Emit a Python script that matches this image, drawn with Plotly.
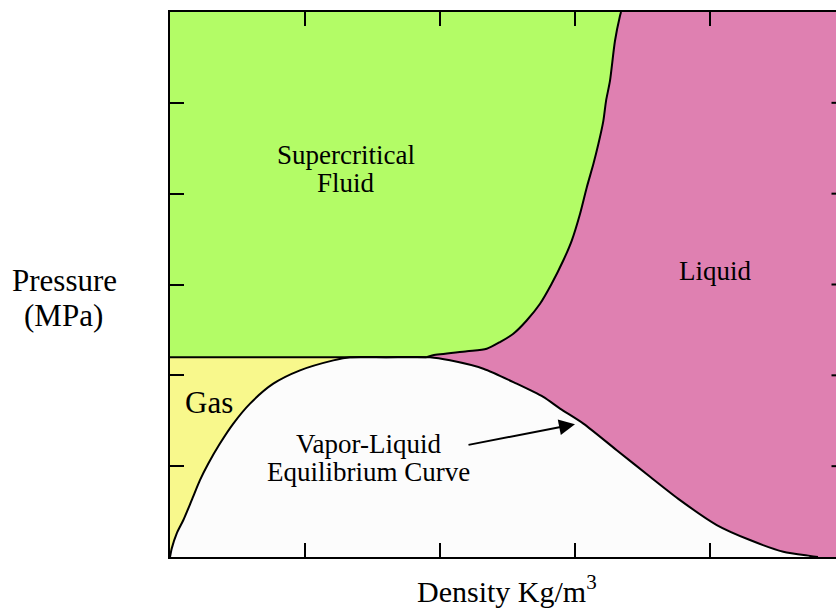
import plotly.graph_objects as go

# Vapor-liquid equilibrium dome (density, pressure) in axis units
dome_x = [0.0, 0.013, 0.050, 0.099, 0.161, 0.222, 0.284, 0.370, 0.469, 0.593, 0.765,
          0.963, 1.210, 1.333, 1.60, 1.926, 2.074, 2.321, 2.568, 2.765, 2.889, 3.062,
          3.309, 3.556, 3.778, 4.050, 4.296, 4.543, 4.741, 4.80]
dome_y = [0.0, 0.095, 0.260, 0.407, 0.626, 0.846, 1.029, 1.249, 1.469, 1.689, 1.908,
          2.055, 2.165, 2.2, 2.2, 2.2, 2.165, 2.073, 1.908, 1.762, 1.634, 1.469,
          1.176, 0.883, 0.626, 0.352, 0.187, 0.058, 0.012, 0.0]

# Supercritical fluid / liquid boundary
bound_x = [1.90, 1.948, 2.2, 2.346, 2.444, 2.543, 2.642, 2.741, 2.827, 2.913, 2.976,
           3.037, 3.087, 3.136, 3.173, 3.210, 3.230, 3.259, 3.296, 3.333, 3.341]
bound_y = [2.2, 2.22, 2.264, 2.293, 2.366, 2.458, 2.604, 2.788, 3.008, 3.264, 3.484,
           3.777, 4.069, 4.326, 4.546, 4.802, 5.022, 5.242, 5.681, 5.956, 6.0]

p_crit = 2.2
x_max = 5.1
y_max = 6.0
x_ticks = [1, 2, 3, 4]
y_ticks = [1, 2, 3, 4, 5]

GREEN = "#b3fc66"
PINK = "#df80b1"
YELLOW = "#f8f88c"
WHITE = "#fcfcfc"
FONT = "Liberation Serif, Times New Roman, serif"

peak_i = dome_y.index(p_crit)
crit_x = bound_x[0]
right_start = dome_x.index(1.926)

SM = dict(shape="spline", smoothing=0.7)

fig = go.Figure()

# Supercritical fluid region
fig.add_trace(go.Scatter(
    x=[0] + bound_x + [0], y=[p_crit] + bound_y + [y_max],
    fill="toself", fillcolor=GREEN, mode="none", hoverinfo="skip"))
# Gas region
fig.add_trace(go.Scatter(
    x=dome_x[:peak_i + 1] + [0], y=dome_y[:peak_i + 1] + [p_crit],
    fill="toself", fillcolor=YELLOW, mode="none", hoverinfo="skip"))
# Liquid region
rx = dome_x[right_start:][::-1]
ry = dome_y[right_start:][::-1]
fig.add_trace(go.Scatter(
    x=bound_x + [x_max, x_max] + rx, y=bound_y + [y_max, 0] + ry,
    fill="toself", fillcolor=PINK, mode="none", hoverinfo="skip"))
# Two-phase dome
fig.add_trace(go.Scatter(
    x=dome_x, y=dome_y, fill="toself", fillcolor=WHITE, mode="lines",
    line=dict(width=0, **SM), hoverinfo="skip"))

# Lines
fig.add_trace(go.Scatter(x=dome_x, y=dome_y, mode="lines",
                         line=dict(color="black", width=2, **SM), hoverinfo="skip"))
fig.add_trace(go.Scatter(x=bound_x, y=bound_y, mode="lines",
                         line=dict(color="black", width=2, **SM), hoverinfo="skip"))
fig.add_trace(go.Scatter(x=[0, crit_x], y=[p_crit, p_crit], mode="lines",
                         line=dict(color="black", width=2), hoverinfo="skip"))

# Right-side tick marks (axis itself is outside the visible page)
for yt in y_ticks:
    fig.add_shape(type="line", xref="x", yref="y", x0=4.9, x1=5.0, y0=yt, y1=yt,
                  line=dict(color="black", width=2))

def label(text, x, y, size=27, xref="x", yref="y"):
    fig.add_annotation(text=text, x=x, y=y, xref=xref, yref=yref, showarrow=False,
                       font=dict(family=FONT, size=size, color="black"),
                       xanchor="center", yanchor="middle")

label("Supercritical", 1.304, 4.43)
label("Fluid", 1.304, 4.12)
label("Liquid", 4.037, 3.154)
label("Gas", 0.289, 1.70, size=31)
label("Vapor-Liquid", 1.474, 1.242)
label("Equilibrium Curve", 1.467, 0.934)

label("Pressure", -0.159, 0.508, size=31, xref="paper", yref="paper")
label("(MPa)", -0.160, 0.444, size=31, xref="paper", yref="paper")
label("Density Kg/m<sup>3</sup>", 0.506, -0.059, size=30, xref="paper", yref="paper")

fig.add_annotation(x=3.0, y=1.462, ax=2.2, ay=1.231, xref="x", yref="y",
                   axref="x", ayref="y", showarrow=True, arrowhead=2,
                   arrowwidth=2, arrowsize=1.6, arrowcolor="black", text="")

fig.update_layout(
    width=836, height=609,
    margin=dict(l=170, r=0, t=12, b=52),
    paper_bgcolor="white", plot_bgcolor="white",
    showlegend=False,
    xaxis=dict(range=[0, 666 / 135], tickvals=x_ticks, showticklabels=False,
               ticks="inside", ticklen=14, tickwidth=2, tickcolor="black",
               showline=True, linecolor="black", linewidth=2, mirror="ticks",
               showgrid=False, zeroline=False, fixedrange=True),
    yaxis=dict(range=[0, y_max], tickvals=y_ticks, showticklabels=False,
               ticks="inside", ticklen=14, tickwidth=2, tickcolor="black",
               showline=True, linecolor="black", linewidth=2, mirror=False,
               showgrid=False, zeroline=False, fixedrange=True),
)

fig.write_html("out.html")
